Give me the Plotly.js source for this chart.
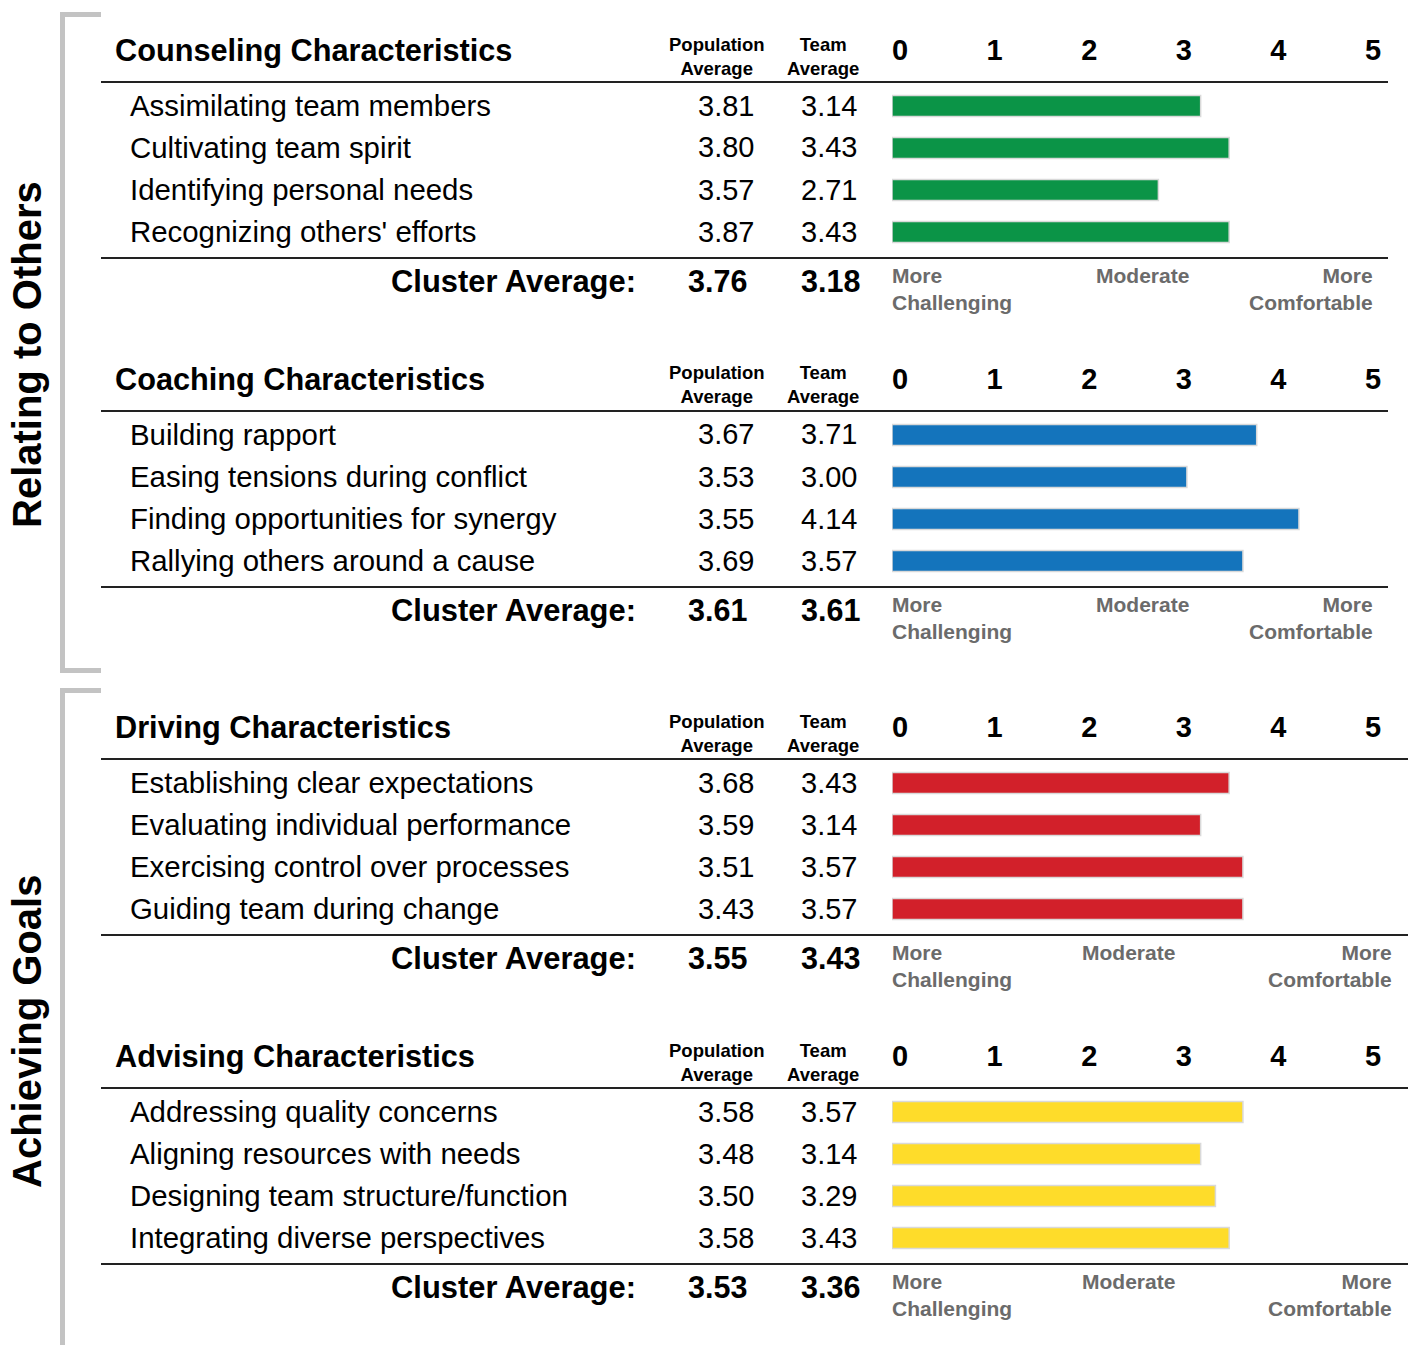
<!DOCTYPE html>
<html>
<head>
<meta charset="utf-8">
<script src="https://cdn.plot.ly/plotly-3.0.1.min.js"></script>
<style>
  html, body { margin: 0; padding: 0; background: #fff; }
  #chart { width: 1408px; height: 1345px; }
</style>
</head>
<body>
<div id="chart"></div>
<script>
// ---------- DATA ----------
const groupNames = ["Relating to Others", "Achieving Goals"];
const panelTitles = ["Counseling Characteristics", "Coaching Characteristics", "Driving Characteristics", "Advising Characteristics"];
const panelColors = ["#0b9447", "#1474bc", "#d2202a", "#fedc2a"];

const counselingLabels = ["Assimilating team members", "Cultivating team spirit", "Identifying personal needs", "Recognizing others' efforts"];
const counselingPop = [3.81, 3.80, 3.57, 3.87];
const counselingTeam = [3.14, 3.43, 2.71, 3.43];
const counselingCluster = [3.76, 3.18];

const coachingLabels = ["Building rapport", "Easing tensions during conflict", "Finding opportunities for synergy", "Rallying others around a cause"];
const coachingPop = [3.67, 3.53, 3.55, 3.69];
const coachingTeam = [3.71, 3.00, 4.14, 3.57];
const coachingCluster = [3.61, 3.61];

const drivingLabels = ["Establishing clear expectations", "Evaluating individual performance", "Exercising control over processes", "Guiding team during change"];
const drivingPop = [3.68, 3.59, 3.51, 3.43];
const drivingTeam = [3.43, 3.14, 3.57, 3.57];
const drivingCluster = [3.55, 3.43];

const advisingLabels = ["Addressing quality concerns", "Aligning resources with needs", "Designing team structure/function", "Integrating diverse perspectives"];
const advisingPop = [3.58, 3.48, 3.50, 3.58];
const advisingTeam = [3.57, 3.14, 3.29, 3.43];
const advisingCluster = [3.53, 3.36];

const scaleTicks = [0, 1, 2, 3, 4, 5];
const scaleTickText = ["0", "1", "2", "3", "4", "5"];
const headerPop = "Population<br>Average";
const headerTeam = "Team<br>Average";
const clusterLabel = "Cluster Average:";
const scaleLeft = "More<br>Challenging";
const scaleMid = "Moderate";
const scaleRight = "More<br>Comfortable";

const panels = [
  {title: panelTitles[0], color: panelColors[0], labels: counselingLabels, pop: counselingPop, team: counselingTeam, cluster: counselingCluster},
  {title: panelTitles[1], color: panelColors[1], labels: coachingLabels, pop: coachingPop, team: coachingTeam, cluster: coachingCluster},
  {title: panelTitles[2], color: panelColors[2], labels: drivingLabels, pop: drivingPop, team: drivingTeam, cluster: drivingCluster},
  {title: panelTitles[3], color: panelColors[3], labels: advisingLabels, pop: advisingPop, team: advisingTeam, cluster: advisingCluster}
];

// ---------- LAYOUT GEOMETRY ----------
const W = 1408, H = 1345;
const fx = p => p / W;
const fy = p => 1 - p / H;
const FONT = "Liberation Sans, Arial, Helvetica, sans-serif";
const panelTop = [50, 379, 727, 1056];
const lineRight = [1388, 1388, 1408, 1408];
const midX = [1142, 1142, 1128, 1128];
const rightX = [1373, 1373, 1392, 1392];
const barLeft = 892, barRight = 1383.5;
// tick label scale: 0 at 900px, 5 at 1373px
const tickPx0 = 900, tickPxPerUnit = 94.6;
const tickRange = [(barLeft - tickPx0) / tickPxPerUnit, (barRight - tickPx0) / tickPxPerUnit];

const traces = [];
const annotations = [];
const shapes = [];
const layout = {
  width: W, height: H,
  margin: {l: 0, r: 0, t: 0, b: 0},
  paper_bgcolor: "#fff", plot_bgcolor: "rgba(0,0,0,0)",
  showlegend: false,
  font: {family: FONT, color: "#000"},
  annotations: annotations,
  shapes: shapes
};

panels.forEach((p, i) => {
  const T = panelTop[i];
  const n = i + 1;
  const xa = n === 1 ? "x" : "x" + n;
  const ya = n === 1 ? "y" : "y" + n;
  const xo = "x" + (n + 4);
  const xKey = n === 1 ? "xaxis" : "xaxis" + n;
  const yKey = n === 1 ? "yaxis" : "yaxis" + n;

  traces.push({
    type: "bar", orientation: "h",
    x: p.team, y: p.labels,
    xaxis: xa, yaxis: ya,
    width: 0.5,
    marker: {color: p.color, line: {color: "#d9d9d9", width: 1.5}},
    hoverinfo: "x+y"
  });
  // invisible trace to register overlay tick axis
  traces.push({type: "scatter", x: [], y: [], xaxis: xo, yaxis: ya, hoverinfo: "skip"});

  layout[xKey] = {
    domain: [fx(barLeft), fx(barRight)], range: [0, 5], anchor: ya,
    showgrid: false, zeroline: false, showline: false, showticklabels: false, ticks: "", fixedrange: true
  };
  layout[yKey] = {
    domain: [fy(T + 203), fy(T + 35)], anchor: xa,
    type: "category", range: [3.5, -0.5],
    showgrid: false, zeroline: false, showline: false, showticklabels: false, ticks: "", fixedrange: true
  };
  layout["xaxis" + (n + 4)] = {
    overlaying: xa, anchor: "free", position: fy(T + 16), side: "top",
    domain: [fx(barLeft), fx(barRight)], range: tickRange,
    tickmode: "array", tickvals: scaleTicks, ticktext: scaleTickText,
    tickfont: {family: FONT, size: 29, color: "#000", weight: "bold"},
    showgrid: false, zeroline: false, showline: false, ticks: "", fixedrange: true
  };

  // title
  annotations.push({xref: "paper", yref: "paper", x: fx(113), y: fy(T), xanchor: "left", yanchor: "middle",
    text: "<b>" + p.title + "</b>", showarrow: false, font: {family: FONT, size: 30.7, color: "#000"}});
  // headers
  annotations.push({xref: "paper", yref: "paper", x: fx(717), y: fy(T + 6), xanchor: "center", yanchor: "middle",
    text: "<b>" + headerPop + "</b>", showarrow: false, align: "center", font: {family: FONT, size: 18.5, color: "#000"}});
  annotations.push({xref: "paper", yref: "paper", x: fx(823), y: fy(T + 6), xanchor: "center", yanchor: "middle",
    text: "<b>" + headerTeam + "</b>", showarrow: false, align: "center", font: {family: FONT, size: 18.5, color: "#000"}});
  // rows
  p.labels.forEach((lab, k) => {
    const yc = T + 56 + 42 * k;
    annotations.push({xref: "paper", yref: "paper", x: fx(128), y: fy(yc - 0.5), xanchor: "left", yanchor: "middle",
      text: lab, showarrow: false, font: {family: FONT, size: 29.4, color: "#000"}});
    annotations.push({xref: "paper", yref: "paper", x: fx(756), y: fy(yc - 0.5), xanchor: "right", yanchor: "middle",
      text: p.pop[k].toFixed(2), showarrow: false, font: {family: FONT, size: 29, color: "#000"}});
    annotations.push({xref: "paper", yref: "paper", x: fx(859), y: fy(yc - 0.5), xanchor: "right", yanchor: "middle",
      text: p.team[k].toFixed(2), showarrow: false, font: {family: FONT, size: 29, color: "#000"}});
  });
  // cluster
  annotations.push({xref: "paper", yref: "paper", x: fx(638), y: fy(T + 231), xanchor: "right", yanchor: "middle",
    text: "<b>" + clusterLabel + "</b>", showarrow: false, font: {family: FONT, size: 30.9, color: "#000"}});
  annotations.push({xref: "paper", yref: "paper", x: fx(717), y: fy(T + 231), xanchor: "center", yanchor: "middle",
    text: "<b>" + p.cluster[0].toFixed(2) + "</b>", showarrow: false, font: {family: FONT, size: 30.5, color: "#000"}});
  annotations.push({xref: "paper", yref: "paper", x: fx(830), y: fy(T + 231), xanchor: "center", yanchor: "middle",
    text: "<b>" + p.cluster[1].toFixed(2) + "</b>", showarrow: false, font: {family: FONT, size: 30.5, color: "#000"}});
  // scale descriptors
  const gray = "#6b6b6b";
  annotations.push({xref: "paper", yref: "paper", x: fx(890), y: fy(T + 239), xanchor: "left", yanchor: "middle",
    text: "<b>" + scaleLeft + "</b>", align: "left", showarrow: false, font: {family: FONT, size: 21, color: gray}});
  annotations.push({xref: "paper", yref: "paper", x: fx(midX[i]), y: fy(T + 225), xanchor: "center", yanchor: "middle",
    text: "<b>" + scaleMid + "</b>", showarrow: false, font: {family: FONT, size: 21, color: gray}});
  annotations.push({xref: "paper", yref: "paper", x: fx(rightX[i] + 2), y: fy(T + 239), xanchor: "right", yanchor: "middle",
    text: "<b>" + scaleRight + "</b>", align: "right", showarrow: false, font: {family: FONT, size: 21, color: gray}});

  // rules
  [T + 32, T + 208].forEach(yy => {
    shapes.push({type: "line", xref: "paper", yref: "paper", x0: fx(101), x1: fx(lineRight[i]), y0: fy(yy), y1: fy(yy),
      line: {color: "#222", width: 2}});
  });
});

// group brackets
const bracketColor = "#c3c3c3";
[[14.5, 670.5], [690.5, 1350]].forEach(([top, bot], g) => {
  shapes.push({type: "line", xref: "paper", yref: "paper", x0: fx(62.5), x1: fx(62.5), y0: fy(top - 2.5), y1: fy(bot + 2.5), line: {color: bracketColor, width: 5}});
  shapes.push({type: "line", xref: "paper", yref: "paper", x0: fx(60), x1: fx(101), y0: fy(top), y1: fy(top), line: {color: bracketColor, width: 5}});
  if (bot < H) shapes.push({type: "line", xref: "paper", yref: "paper", x0: fx(60), x1: fx(101), y0: fy(bot), y1: fy(bot), line: {color: bracketColor, width: 5}});
});
[[27, 355], [27, 1032]].forEach(([x, y], g) => {
  annotations.push({xref: "paper", yref: "paper", x: fx(x), y: fy(y), xanchor: "center", yanchor: "middle",
    text: "<b>" + groupNames[g] + "</b>", textangle: -90, showarrow: false, font: {family: FONT, size: 40, color: "#000"}});
});

Plotly.newPlot("chart", traces, layout, {displayModeBar: false, staticPlot: true});
</script>
</body>
</html>
